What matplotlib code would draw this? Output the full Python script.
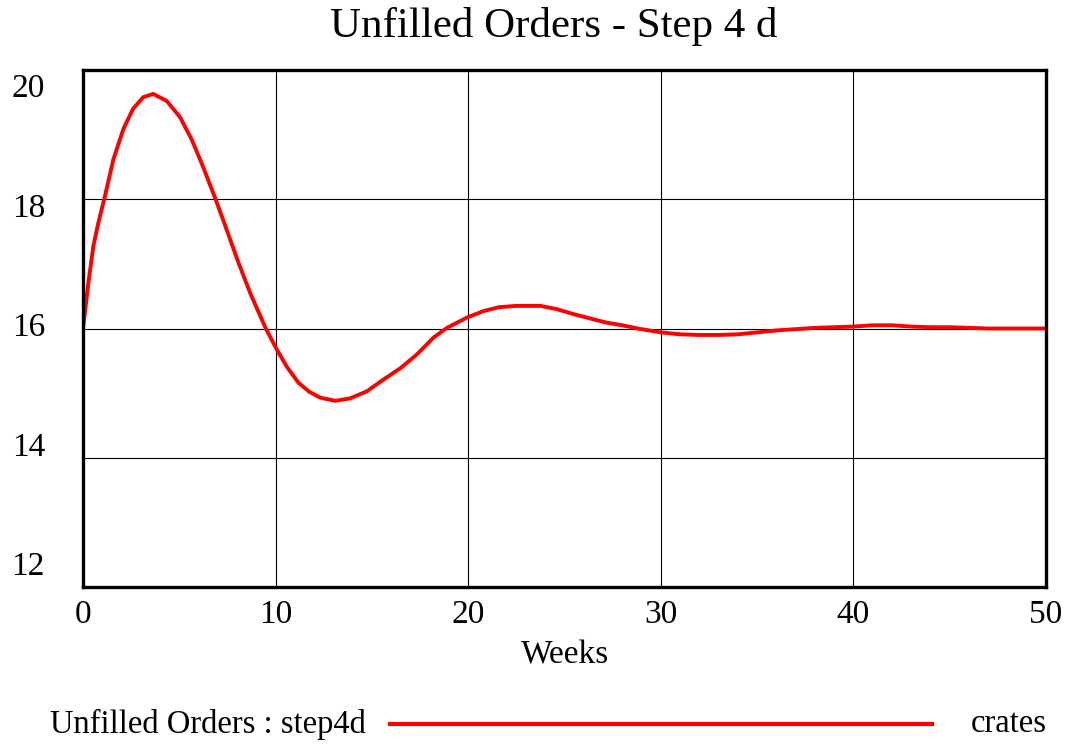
import numpy as np
import matplotlib.pyplot as plt
from matplotlib.lines import Line2D

# Unfilled Orders (crates) over weeks
weeks = [0, 0.28, 0.54, 0.8, 1.14, 1.58, 2.1, 2.6, 3.13, 3.65, 4.35, 5.04, 5.65, 6.25, 6.86,
         7.47, 8.07, 8.68, 9.46, 10.07, 10.6, 11.19, 11.75, 12.32, 13.1, 13.88, 14.75, 15.6, 16.5,
         17.34, 18.2, 18.9, 19.94, 20.8, 21.6, 22.5, 23.75, 24.6, 25.5, 26.4, 27.2, 28.0, 28.8,
         30, 31, 32, 33, 34, 35, 36, 37, 38, 39, 40, 41, 42, 43, 44, 45, 46, 47, 48, 49, 50]
orders = [16.0, 16.71, 17.28, 17.64, 18.05, 18.62, 19.09, 19.4, 19.58, 19.63, 19.52, 19.27,
          18.92, 18.49, 18.02, 17.52, 17.02, 16.55, 16.02, 15.67, 15.4, 15.16, 15.02, 14.93,
          14.88, 14.92, 15.03, 15.21, 15.39, 15.6, 15.86, 16.01, 16.17, 16.27, 16.33, 16.35,
          16.35, 16.3, 16.22, 16.15, 16.09, 16.05, 16.0,
          15.94, 15.91, 15.9, 15.9, 15.91, 15.94, 15.97, 15.99, 16.01, 16.02, 16.03, 16.05,
          16.05, 16.03, 16.02, 16.02, 16.01, 16.0, 16.0, 16.0, 16.0]
xticks = [0, 10, 20, 30, 40, 50]
yticks = [20, 18, 16, 14, 12]

plt.rcParams['font.family'] = ['Liberation Serif', 'DejaVu Serif']
W, H = 1075, 748
fig = plt.figure(figsize=(W / 100, H / 100), dpi=100)
ax = fig.add_axes([83 / W, 1 - 587 / H, (1046 - 83) / W, (587 - 70) / H])

ax.plot(weeks, orders, color='#ff0000', lw=2.8, solid_capstyle='butt', solid_joinstyle='round')
ax.set_xlim(0, 50)
ax.set_ylim(12, 20)
ax.set_xticks(xticks)
ax.set_yticks(yticks)
ax.grid(True, color='black', lw=0.8)
ax.tick_params(length=0, labelbottom=False, labelleft=False)
for s in ax.spines.values():
    s.set_linewidth(2.4)
    s.set_color('black')

# y labels spread evenly like the original tool does
for i, v in enumerate(yticks):
    fig.text(45 / W, 1 - (89 + 119.5 * i) / H, str(v), ha='right', va='center', fontsize=24)
for v in xticks:
    px = 83 + v * (1046 - 83) / 50
    fig.text(px / W, 1 - 615 / H, str(v), ha='center', va='center', fontsize=24)
fig.text(565 / W, 1 - 655 / H, 'Weeks', ha='center', va='center', fontsize=24)
fig.text(554 / W, 1 - 27 / H, 'Unfilled Orders - Step 4 d', ha='center', va='center', fontsize=31)

# legend row
fig.text(50 / W, 1 - 724 / H, 'Unfilled Orders : step4d', ha='left', va='center', fontsize=23.5)
fig.add_artist(Line2D([390 / W, 932 / W], [1 - 724 / H, 1 - 724 / H], color='#ff0000', lw=3))
fig.text(1047 / W, 1 - 724 / H, 'crates', ha='right', va='center', fontsize=23.5)

fig.savefig('out.png', dpi=100)
